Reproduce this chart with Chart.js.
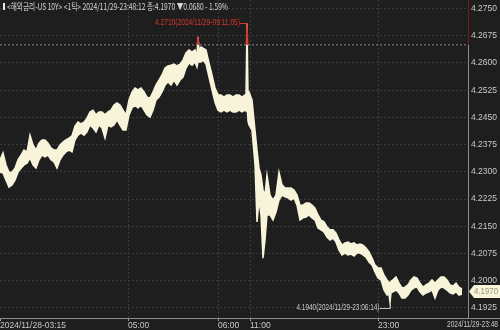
<!DOCTYPE html>
<html><head><meta charset="utf-8">
<script src="https://cdn.jsdelivr.net/npm/chart.js@4.4.1/dist/chart.umd.min.js"></script>
<style>html,body{margin:0;padding:0;background:#1e1e1e;overflow:hidden}canvas{display:block}</style>
</head><body>
<canvas id="c" width="500" height="330"></canvas>
<script>
const titleText = '<해외금리-US 10Y> <1틱> 2024/11/29-23:48:12 종:4.1970 ▼0.0680 - 1.59%';
// tick sequence position (x) and high / low of each tick bucket
const seq = [0,3,6,9,12,15,18,21,24,27,30,33,36,39,42,45,48,51,54,57,60,63,66,69,72,75,78,81,84,87,90,93,96,99,102,105,108,111,114,117,120,123,126,129,132,135,138,141,144,147,150,153,156,159,162,165,168,171,174,177,180,183,186,189,192,195,197,198,199,201,203,206,209,212,215,218,221,224,227,230,233,236,239,242,245,246,247,248,249,252,255,257,259,261,263,265,267,270,273,276,279,282,285,288,291,294,297,300,303,306,309,312,315,318,321,324,327,330,333,336,339,342,345,348,351,354,357,360,363,366,369,372,375,378,381,384,387,389,390,391,393,396,399,402,405,408,411,414,417,420,423,426,429,432,435,438,441,444,447,450,453,456,459,462];
const highs = [4.2333,4.2352,4.2319,4.2299,4.2299,4.2310,4.2333,4.2346,4.2360,4.2355,4.2401,4.2374,4.2360,4.2379,4.2388,4.2388,4.2379,4.2366,4.2360,4.2360,4.2374,4.2382,4.2388,4.2393,4.2399,4.2426,4.2437,4.2432,4.2437,4.2448,4.2465,4.2470,4.2457,4.2465,4.2465,4.2457,4.2465,4.2470,4.2484,4.2490,4.2484,4.2470,4.2457,4.2498,4.2520,4.2531,4.2526,4.2531,4.2520,4.2506,4.2503,4.2520,4.2539,4.2553,4.2567,4.2586,4.2592,4.2594,4.2597,4.2592,4.2597,4.2608,4.2628,4.2636,4.2630,4.2636,4.2622,4.2672,4.2636,4.2644,4.2641,4.2636,4.2600,4.2567,4.2531,4.2512,4.2512,4.2506,4.2512,4.2512,4.2506,4.2512,4.2512,4.2506,4.2512,4.2509,4.2710,4.2515,4.2520,4.2498,4.2415,4.2360,4.2310,4.2291,4.2250,4.2236,4.2291,4.2236,4.2222,4.2236,4.2299,4.2264,4.2255,4.2255,4.2255,4.2250,4.2236,4.2208,4.2208,4.2214,4.2214,4.2208,4.2200,4.2181,4.2167,4.2162,4.2148,4.2140,4.2140,4.2131,4.2112,4.2098,4.2104,4.2106,4.2101,4.2104,4.2098,4.2101,4.2098,4.2090,4.2079,4.2062,4.2043,4.2035,4.2035,4.2015,4.2002,4.1995,4.1993,4.1998,4.2002,4.2010,4.1993,4.1980,4.1982,4.1988,4.2002,4.2010,4.2007,4.1993,4.1982,4.1988,4.1993,4.2002,4.1993,4.2002,4.2010,4.2010,4.2002,4.1988,4.1985,4.1993,4.1982,4.1977];
const lows = [4.2299,4.2297,4.2277,4.2258,4.2264,4.2277,4.2299,4.2310,4.2319,4.2324,4.2338,4.2319,4.2310,4.2333,4.2346,4.2341,4.2346,4.2333,4.2327,4.2310,4.2333,4.2346,4.2355,4.2360,4.2355,4.2388,4.2401,4.2407,4.2401,4.2410,4.2429,4.2421,4.2410,4.2429,4.2421,4.2393,4.2429,4.2424,4.2429,4.2443,4.2429,4.2415,4.2415,4.2457,4.2476,4.2484,4.2476,4.2484,4.2470,4.2457,4.2451,4.2470,4.2498,4.2506,4.2520,4.2539,4.2548,4.2539,4.2553,4.2539,4.2553,4.2561,4.2586,4.2600,4.2594,4.2603,4.2589,4.2603,4.2603,4.2603,4.2608,4.2597,4.2561,4.2526,4.2492,4.2470,4.2465,4.2470,4.2465,4.2470,4.2465,4.2465,4.2470,4.2465,4.2470,4.2468,4.2484,4.2440,4.2429,4.2415,4.2319,4.2162,4.2222,4.2181,4.2062,4.2112,4.2181,4.2181,4.2167,4.2189,4.2222,4.2236,4.2231,4.2228,4.2222,4.2228,4.2208,4.2167,4.2173,4.2175,4.2181,4.2173,4.2167,4.2145,4.2140,4.2134,4.2120,4.2112,4.2117,4.2106,4.2084,4.2071,4.2076,4.2071,4.2073,4.2068,4.2076,4.2076,4.2071,4.2065,4.2051,4.2043,4.2024,4.2007,4.2002,4.1974,4.1960,4.1963,4.1940,4.1966,4.1969,4.1974,4.1966,4.1952,4.1952,4.1960,4.1974,4.1980,4.1982,4.1969,4.1960,4.1966,4.1969,4.1974,4.1952,4.1974,4.1982,4.1980,4.1974,4.1966,4.1963,4.1969,4.1960,4.1963];
const prevClose = 4.2650;
const lastPrice = 4.1970;
const highMark = {seq: 247, value: 4.2710, label: '4.2710(2024/11/29-09:11:05)'};
const lowMark = {seq: 390, value: 4.1940, label: '4.1940(2024/11/29-23:06:14)'};
const yTicks = [4.2750,4.2675,4.2600,4.2525,4.2450,4.2375,4.2300,4.2225,4.2150,4.2075,4.2000,4.1925];
const xTickSeq = [0,128,218,250,378];
const xTickLabels = ['2024/11/28-03:15','05:00','06:00','11:00','23:00'];
const endLabel = '2024/11/29-23:48';
const yMin = 4.18969, yMax = 4.27737, seqMax = 468;

const CREAM = '#f7f4da', RED = '#d8352c', GRID = '#3b3b3b', TXT = '#c9c9c9';
const smallFont = "'Liberation Sans Narrow','Liberation Sans',sans-serif";

function fitText(ctx, text, x, y, w, align, color, font) {
  ctx.save();
  ctx.font = font; ctx.fillStyle = color; ctx.textBaseline = 'middle'; ctx.textAlign = 'left';
  const m = ctx.measureText(text).width;
  const s = w / m;
  ctx.translate(align === 'right' ? x - w : x, y);
  ctx.scale(s, 1);
  ctx.fillText(text, 0, 0);
  ctx.restore();
}

const overlay = {
  id: 'overlay',
  afterDraw(chart) {
    const {ctx, chartArea: ca, scales: {x, y}} = chart;
    ctx.save();
    ctx.fillStyle = '#e6e6e6';
    ctx.fillRect(3, 3, 2, 7);
    ctx.restore();
    fitText(ctx, titleText, 7, 6.5, 221, 'left', '#d6d6d6', "9px 'Noto Sans CJK KR', sans-serif");
    ctx.save();
    ctx.strokeStyle = '#8a8a8a'; ctx.lineWidth = 1;
    ctx.beginPath(); ctx.moveTo(ca.right, ca.bottom + 0.5); ctx.lineTo(500, ca.bottom + 0.5); ctx.stroke();
    ctx.strokeStyle = '#7a1d1a';
    ctx.beginPath(); ctx.moveTo(ca.right + 0.5, ca.top); ctx.lineTo(ca.right + 0.5, y.getPixelForValue(prevClose)); ctx.stroke();
    ctx.restore();
    const hx = Math.round(x.getPixelForValue(highMark.seq)), hy = Math.round(y.getPixelForValue(highMark.value)) + 0.5;
    ctx.save(); ctx.strokeStyle = RED; ctx.lineWidth = 1;
    ctx.beginPath(); ctx.moveTo(hx - 7, hy); ctx.lineTo(hx, hy); ctx.stroke(); ctx.restore();
    fitText(ctx, highMark.label, hx - 7, hy - 0.5, 85, 'right', RED, "8.5px " + smallFont);
    const lx = Math.round(x.getPixelForValue(lowMark.seq)) + 0.5, ly = y.getPixelForValue(lowMark.value);
    const ly2 = Math.round(ly + 6) + 0.5;
    ctx.save(); ctx.strokeStyle = '#bdbdbd'; ctx.lineWidth = 1;
    ctx.beginPath(); ctx.moveTo(lx - 11, ly2); ctx.lineTo(lx, ly2); ctx.lineTo(lx, ly + 1); ctx.stroke(); ctx.restore();
    fitText(ctx, lowMark.label, lx - 11, ly2 - 0.5, 83, 'right', TXT, "8.5px " + smallFont);
    fitText(ctx, endLabel, 498, 325, 51, 'right', TXT, "8.5px " + smallFont);
    const py = y.getPixelForValue(lastPrice);
    ctx.save();
    ctx.fillStyle = CREAM;
    ctx.beginPath();
    ctx.moveTo(ca.right + 1, py);
    ctx.lineTo(ca.right + 6, py - 6.5);
    ctx.lineTo(500, py - 6.5);
    ctx.lineTo(500, py + 6.5);
    ctx.lineTo(ca.right + 6, py + 6.5);
    ctx.closePath(); ctx.fill();
    ctx.restore();
    fitText(ctx, lastPrice.toFixed(4), 474, py + 0.5, 24, 'left', '#9a9478', "8.5px " + smallFont);
  }
};

const pts = arr => seq.map((s, i) => ({x: s, y: arr[i]}));
const redTop = highs.map(h => Math.max(h, prevClose));

new Chart(document.getElementById('c'), {
  type: 'line',
  data: {
    datasets: [
      {data: pts(highs), borderColor: CREAM, backgroundColor: CREAM, borderWidth: 1.5, fill: '+1', pointRadius: 0, order: 2},
      {data: pts(lows), borderColor: CREAM, backgroundColor: CREAM, borderWidth: 1.5, fill: false, pointRadius: 0, order: 2},
      {data: [{x: 0, y: prevClose}, {x: seqMax, y: prevClose}], borderColor: '#8e8e8e', borderWidth: 1, borderDash: [2, 2], fill: false, pointRadius: 0, order: 5},
      {data: pts(redTop), borderColor: RED, backgroundColor: RED, borderWidth: 1, fill: {value: prevClose}, pointRadius: 0, order: 0,
       segment: {borderColor: c => (c.p0.parsed.y > prevClose || c.p1.parsed.y > prevClose) ? RED : 'rgba(0,0,0,0)'}}
    ]
  },
  options: {
    responsive: false, animation: false, devicePixelRatio: 1,
    layout: {padding: 0},
    elements: {line: {tension: 0}},
    plugins: {legend: {display: false}, tooltip: {enabled: false}},
    scales: {
      x: {
        type: 'linear', min: 0, max: seqMax,
        afterBuildTicks: s => { s.ticks = xTickSeq.map(v => ({value: v})); },
        afterFit: s => { s.height = 12; s.paddingLeft = 0; s.paddingRight = 0; },
        grid: {color: c => (c.tick && c.tick.value === 0) ? 'rgba(0,0,0,0)' : GRID, tickColor: '#a0a0a0', tickLength: 3, drawTicks: true},
        border: {display: true, color: '#8a8a8a', dash: [2, 2]},
        ticks: {autoSkip: false, maxRotation: 0, align: 'start', padding: 0, color: TXT,
                font: {family: smallFont, size: 8.5}, callback: (v, i) => xTickLabels[i]}
      },
      y: {
        position: 'right', min: yMin, max: yMax,
        afterBuildTicks: s => { s.ticks = yTicks.map(v => ({value: v})); },
        afterFit: s => { s.width = 32; s.paddingTop = 0; s.paddingBottom = 0; },
        grid: {color: GRID, drawTicks: false},
        border: {display: true, color: '#8a8a8a', dash: [2, 2]},
        ticks: {padding: 3, color: TXT, font: {family: smallFont, size: 8.5}, callback: v => Number(v).toFixed(4)}
      }
    }
  },
  plugins: [overlay]
});
</script>
</body></html>
